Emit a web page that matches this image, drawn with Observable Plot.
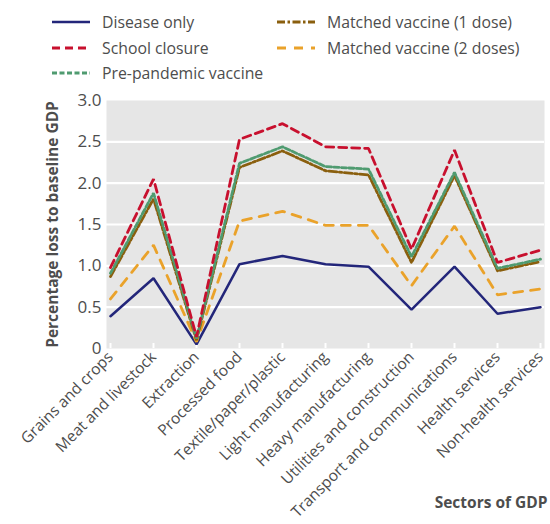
<!DOCTYPE html>
<html>
<head>
<meta charset="utf-8">
<script src="https://cdn.jsdelivr.net/npm/d3@7"></script>
<script src="https://cdn.jsdelivr.net/npm/@observablehq/plot@0.6"></script>
<style>
  html, body { margin: 0; padding: 0; background: #fff; }
  body { width: 550px; height: 524px; overflow: hidden; font-family: "Open Sans", sans-serif; color: #4d4d4d; position: relative; }
  #legend { position: absolute; left: 0; top: 0; width: 550px; height: 88px; }
  .item { position: absolute; display: flex; align-items: center; font-size: 15.8px; white-space: nowrap; }
  .item svg { margin-right: 12px; }
  #chart { position: absolute; left: 0; top: 88px; }
  #chart svg [aria-label="y-axis label"] text, #chart svg [aria-label="x-axis label"] text { font-weight: bold; }
  #chart svg [aria-label="y-axis label"] text { font-size: 15.5px; }
  #chart svg [aria-label="x-axis label"] text { font-size: 15.5px; }
</style>
</head>
<body>
<div id="legend"></div>
<div id="chart"></div>
<script>
const sectors = ["Grains and crops", "Meat and livestock", "Extraction", "Processed food", "Textile/paper/plastic", "Light manufacturing", "Heavy manufacturing", "Utilities and construction", "Transport and communications", "Health services", "Non-health services"];
const seriesNames = ["Disease only", "School closure", "Pre-pandemic vaccine", "Matched vaccine (1 dose)", "Matched vaccine (2 doses)"];
const diseaseOnly   = [0.39, 0.85, 0.05, 1.02, 1.12, 1.02, 0.99, 0.47, 0.99, 0.42, 0.50];
const schoolClosure = [0.98, 2.05, 0.14, 2.53, 2.72, 2.44, 2.42, 1.20, 2.40, 1.04, 1.19];
const prePandemic   = [0.91, 1.88, 0.12, 2.24, 2.44, 2.20, 2.17, 1.11, 2.13, 0.97, 1.08];
const matched1      = [0.87, 1.81, 0.10, 2.19, 2.39, 2.15, 2.10, 1.04, 2.09, 0.94, 1.05];
const matched2      = [0.60, 1.25, 0.08, 1.54, 1.66, 1.49, 1.49, 0.76, 1.48, 0.65, 0.72];
const yTicks = [0, 0.5, 1.0, 1.5, 2.0, 2.5, 3.0];

const values = [diseaseOnly, schoolClosure, prePandemic, matched1, matched2];
const styles = {
  "Disease only":              {color: "#23267a", dash: null,          width: 2.5},
  "School closure":            {color: "#c8102e", dash: "8,5",         width: 2.8},
  "Pre-pandemic vaccine":      {color: "#4f9b70", dash: "5,2.5",       width: 2.8},
  "Matched vaccine (1 dose)":  {color: "#8a5f0e", dash: "8,2.5,2.5,2.5", width: 2.8},
  "Matched vaccine (2 doses)": {color: "#eaa22a", dash: "9,8",         width: 2.8}
};
const rows = seriesNames.flatMap((name, i) => sectors.map((s, j) => ({series: name, sector: s, value: values[i][j]})));
const drawOrder = ["Disease only", "Matched vaccine (2 doses)", "Matched vaccine (1 dose)", "Pre-pandemic vaccine", "School closure"];

// Legend
const legendLayout = [
  ["Disease only", 52, 22], ["School closure", 52, 48], ["Pre-pandemic vaccine", 52, 73],
  ["Matched vaccine (1 dose)", 277, 22], ["Matched vaccine (2 doses)", 277, 48]
];
const legend = document.getElementById("legend");
for (const [name, lx, ly] of legendLayout) {
  const st = styles[name];
  const div = document.createElement("div");
  div.className = "item";
  div.style.left = lx + "px";
  div.style.top = (ly - 11) + "px";
  div.style.height = "22px";
  div.innerHTML = `<svg width="38" height="6"><line x1="0" x2="38" y1="3" y2="3" stroke="${st.color}" stroke-width="${st.width}" ${st.dash ? `stroke-dasharray="${st.dash}"` : ""}/></svg><span>${name}</span>`;
  legend.appendChild(div);
}

const chart = Plot.plot({
  width: 550,
  height: 436,
  marginTop: 12,
  marginLeft: 106,
  marginRight: 6,
  marginBottom: 176,
  style: {fontFamily: "Open Sans, sans-serif", fontSize: "15px", color: "#4d4d4d", background: "white", overflow: "visible"},
  x: {type: "point", domain: sectors, padding: 0},
  y: {domain: [0, 3]},
  marks: [
    Plot.frame({fill: "#e6e6e6", stroke: null}),
    Plot.gridY({ticks: yTicks.slice(1, -1), stroke: "white", strokeOpacity: 1, strokeWidth: 2.2}),
    Plot.axisX({tickSize: -5, stroke: "white", strokeWidth: 2, tickFormat: () => "", label: null}),
    Plot.axisX({tickSize: 0, tickRotate: -45, tickPadding: 6, fontSize: 15.5, label: "Sectors of GDP", labelArrow: false, labelAnchor: "right", labelOffset: 159, fill: "#4d4d4d"}),
    Plot.axisY({ticks: yTicks, tickSize: 0, tickPadding: 5, fontSize: 17, tickFormat: d => d === 0 ? "0" : d.toFixed(1), label: "Percentage loss to baseline GDP", labelArrow: false, labelAnchor: "center", labelOffset: 60, fill: "#4d4d4d"}),
    ...drawOrder.map(name => Plot.line(rows.filter(r => r.series === name), {
      x: "sector", y: "value",
      stroke: styles[name].color,
      strokeWidth: styles[name].width,
      strokeDasharray: styles[name].dash,
      strokeLinejoin: "miter"
    }))
  ]
});
document.getElementById("chart").appendChild(chart);
</script>
</body>
</html>
